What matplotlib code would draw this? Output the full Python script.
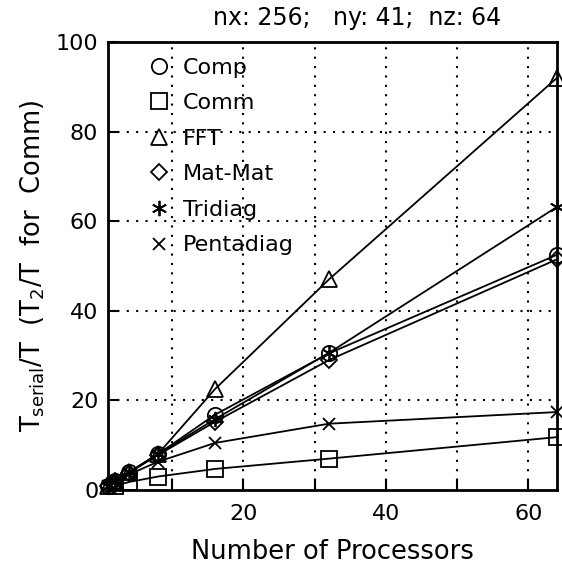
import matplotlib
matplotlib.use("Agg")
import matplotlib.pyplot as plt
from matplotlib.ticker import FixedLocator, NullFormatter

plt.rcParams['font.family'] = ['DejaVu Sans']
plt.rcParams['mathtext.fontset'] = 'dejavusans'

procs = [1, 2, 4, 8, 16, 32, 64]
comm_procs = [2, 4, 8, 16, 32, 64]

comp = [1.0, 1.9, 4.0, 8.0, 16.8, 30.5, 52.5]
comm = [1.0, 1.8, 3.0, 4.7, 7.0, 11.8]
fft = [1.0, 2.0, 4.0, 8.0, 22.5, 47.0, 92.0]
matmat = [1.0, 1.9, 3.9, 7.8, 15.2, 29.0, 51.5]
tridiag = [1.0, 1.9, 4.0, 8.0, 15.8, 30.6, 63.2]
pentadiag = [1.0, 1.8, 3.5, 6.3, 10.5, 14.8, 17.4]

series_labels = ["Comp", "Comm", "FFT", "Mat-Mat", "Tridiag", "Pentadiag"]

title_text = "nx: 256;   ny: 41;  nz: 64"
xlabel_text = "Number of Processors"
ylabel_text = r"$\mathrm{T_{serial}/T\ \ (T_2/T\ \ for\ \ Comm)}$"

fig = plt.figure(figsize=(5.62, 5.65), dpi=100)
ax = fig.add_axes([108/562, 1-490/565, 449/562, 448/565])

mk = dict(color='black', lw=1.3, mfc='none', mec='black', mew=1.3, clip_on=False)
ax.plot(procs, comp, marker='o', ms=11, label=series_labels[0], **mk)
ax.plot(comm_procs, comm, marker='s', ms=11, label=series_labels[1], **mk)
ax.plot(procs, fft, marker='^', ms=11, label=series_labels[2], **mk)
ax.plot(procs, matmat, marker='D', ms=8, label=series_labels[3], **mk)
ax.plot(procs, tridiag, marker=(6, 2, 0), ms=11, label=series_labels[4], **mk)
ax.plot(procs, pentadiag, marker='x', ms=9, label=series_labels[5], **mk)

ax.set_xlim(1, 64)
ax.set_ylim(0, 100)
ax.xaxis.set_major_locator(FixedLocator([20, 40, 60]))
ax.xaxis.set_minor_locator(FixedLocator([10, 30, 50]))
ax.xaxis.set_minor_formatter(NullFormatter())
ax.yaxis.set_major_locator(FixedLocator([0, 20, 40, 60, 80, 100]))

for v in [10, 20, 30, 40, 50, 60]:
    ax.axvline(v, color='black', lw=1.5, ls=(0, (1, 3.5)), zorder=0)
for v in [20, 40, 60, 80]:
    ax.axhline(v, color='black', lw=1.5, ls=(0, (1, 3.5)), zorder=0)

ax.tick_params(axis='both', which='both', direction='in', length=8, width=1.5,
               labelsize=16, top=False, right=False)
ax.tick_params(axis='x', pad=10)
ax.tick_params(axis='y', pad=7)
for s in ax.spines.values():
    s.set_linewidth(2)

ax.set_xlabel(xlabel_text, fontsize=18.5, labelpad=11)
ax.set_ylabel(ylabel_text, fontsize=18.5, labelpad=6)
fig.text(0.635, 0.968, title_text, ha='center', va='center', fontsize=17)

leg = ax.legend(loc='upper left', bbox_to_anchor=(0.06, 0.99), frameon=False,
                fontsize=16, handlelength=1.2, handletextpad=0.45,
                labelspacing=0.7, borderpad=0, numpoints=1)
for h in leg.legend_handles:
    h.set_linestyle('none')

fig.savefig("out.png", dpi=100)
